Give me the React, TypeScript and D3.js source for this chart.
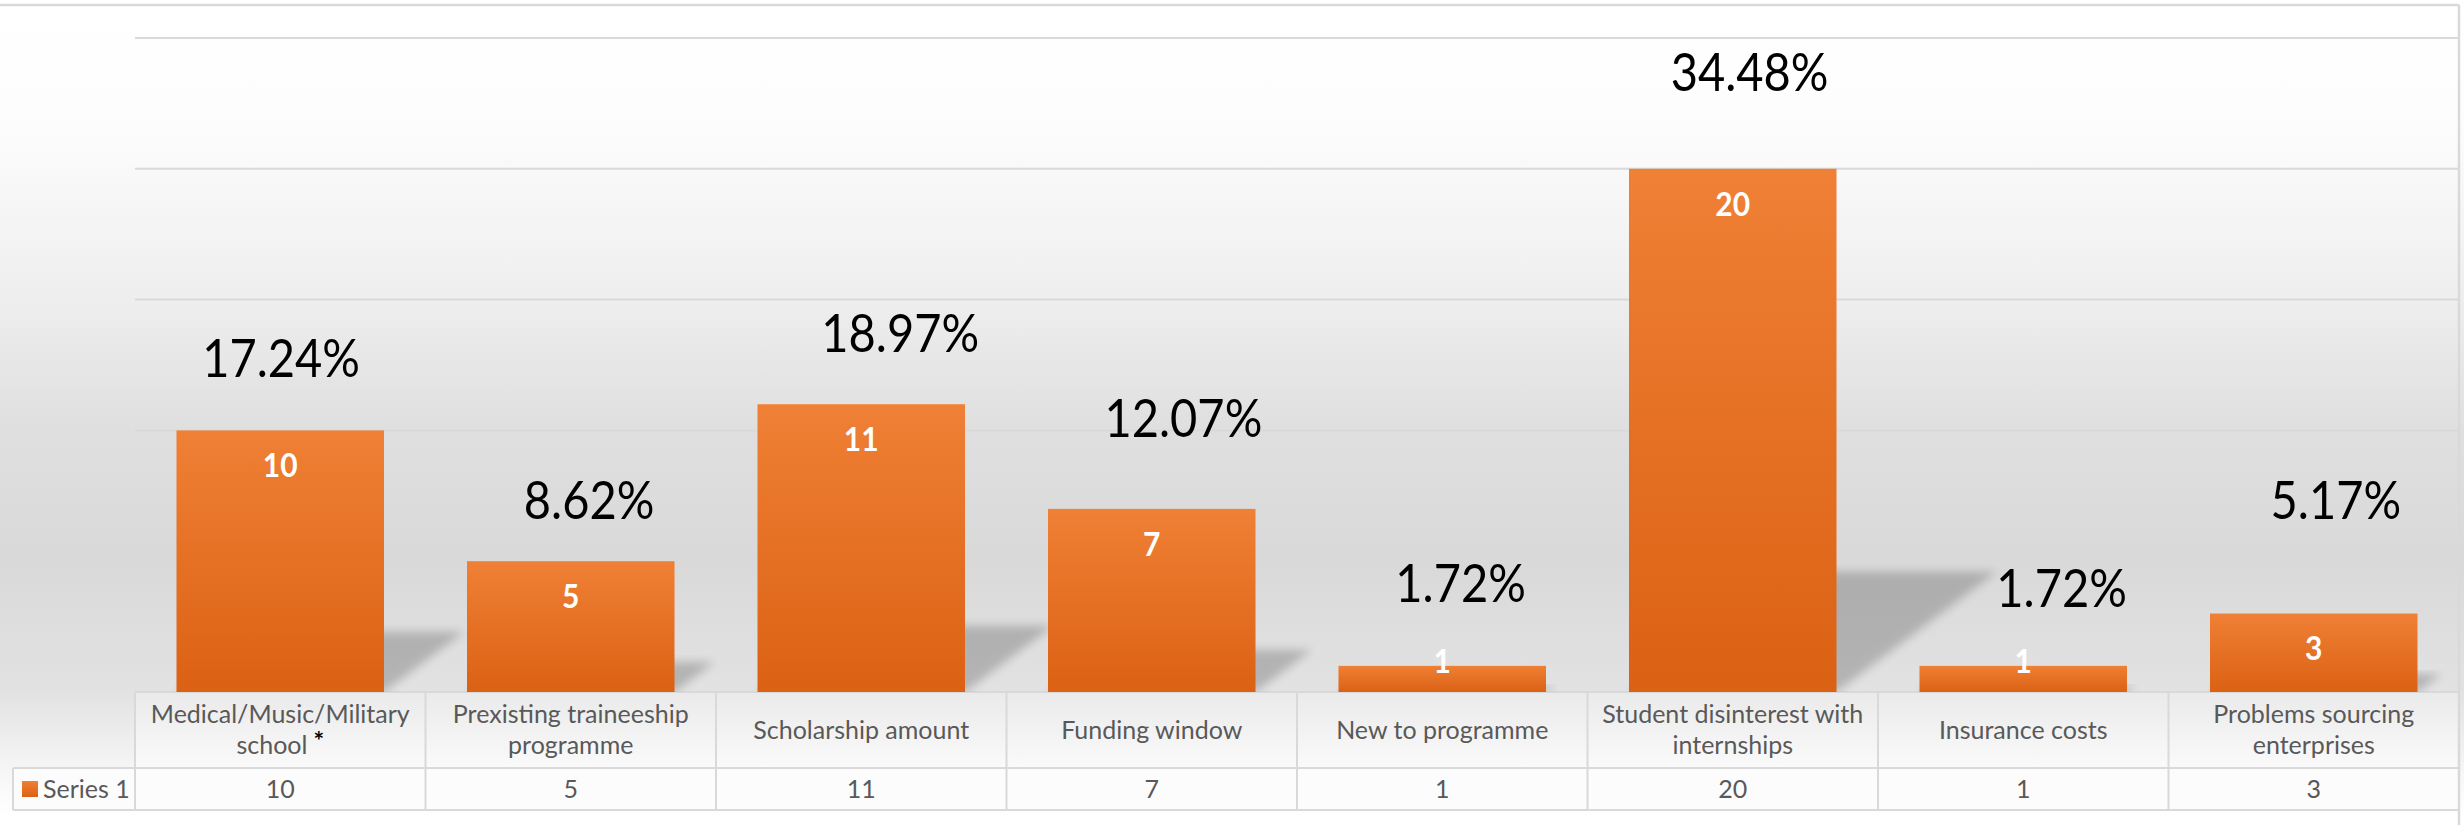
import React, { useMemo } from "react";
import * as d3 from "d3";

// ---------- data ----------
const categories = [
  "Medical/Music/Military school *",
  "Prexisting traineeship programme",
  "Scholarship amount",
  "Funding window",
  "New to programme",
  "Student disinterest with internships",
  "Insurance costs",
  "Problems sourcing enterprises",
];
const counts = [10, 5, 11, 7, 1, 20, 1, 3];
const percentLabels = ["17.24%", "8.62%", "18.97%", "12.07%", "1.72%", "34.48%", "1.72%", "5.17%"];
// where each hand-placed percentage label sits, in value units / band fractions
const percentAnchorValues = [12.77, 7.34, 13.72, 10.47, 4.17, 23.7, 3.98, 7.34];
const percentAnchorShift = [0.003, 0.063, 0.134, 0.109, 0.063, 0.058, 0.132, 0.076];
const yTicks = [0, 5, 10, 15, 20, 25];
const seriesName = "Series 1";

// ---------- layout ----------
const W = 2464;
const H = 825;
const plotLeft = 135;
const plotRight = 2459;
const plotTop = 38;
const baseline = 692;
const seriesRowTop = 768;
const seriesRowBottom = 810;
const tableLeft = 13;
const FONT = "Lato, 'Noto Sans', sans-serif";
const catFontSize = 25;
const lineColor = "#d9d9d9";

function wrapText(text: string, maxWidth: number, font: string): string[] {
  const canvas = document.createElement("canvas");
  const ctx = canvas.getContext("2d")!;
  ctx.font = font;
  const words = text.split(" ");
  const lines: string[] = [];
  let cur = "";
  for (const w of words) {
    const test = cur ? cur + " " + w : w;
    if (cur && ctx.measureText(test).width > maxWidth) {
      lines.push(cur);
      cur = w;
    } else cur = test;
  }
  if (cur) lines.push(cur);
  return lines;
}

export default function App() {
  const x = d3
    .scaleBand<string>()
    .domain(categories)
    .range([plotLeft, plotRight])
    .paddingInner(1 - 1 / 1.4)
    .paddingOuter((1 - 1 / 1.4) / 2);
  const y = d3.scaleLinear().domain([0, 25]).range([baseline, plotTop]);
  const step = x.step();
  const bw = x.bandwidth();

  const wrapped = useMemo(
    () => categories.map((c) => wrapText(c, 262, `${catFontSize}px ${FONT}`)),
    []
  );

  const boundaries = d3.range(categories.length + 1).map((i) => plotLeft + i * step);

  return (
    <svg
      width={W}
      height={H}
      style={{ position: "absolute", left: 0, top: 0, display: "block" }}
      fontFamily={FONT}
    >
      <defs>
        <linearGradient id="bg" gradientUnits="userSpaceOnUse" x1="0" y1="0" x2="0" y2={H}>
          <stop offset={0} stopColor="#ffffff" />
          <stop offset={120 / H} stopColor="#fdfdfd" />
          <stop offset={300 / H} stopColor="#eeeeee" />
          <stop offset={430 / H} stopColor="#dfdfdf" />
          <stop offset={560 / H} stopColor="#d9d9d9" />
          <stop offset={692 / H} stopColor="#e2e2e2" />
          <stop offset={780 / H} stopColor="#f8f8f8" />
          <stop offset={815 / H} stopColor="#ffffff" />
          <stop offset={1} stopColor="#ffffff" />
        </linearGradient>
        <linearGradient id="bar" x1="0" y1="0" x2="0" y2="1">
          <stop offset={0} stopColor="#ef8035" />
          <stop offset={1} stopColor="#db6114" />
        </linearGradient>
        <linearGradient id="cell" x1="0" y1="0" x2="0" y2="1">
          <stop offset={0} stopColor="#eaeaea" />
          <stop offset={1} stopColor="#fafafa" />
        </linearGradient>
        <filter id="blur" x="-20%" y="-20%" width="140%" height="140%">
          <feGaussianBlur stdDeviation="5" />
        </filter>
        <clipPath id="plotClip">
          <rect x={plotLeft} y={0} width={plotRight - plotLeft} height={baseline} />
        </clipPath>
      </defs>

      <rect x={0} y={0} width={W} height={H} fill="url(#bg)" />
      <rect x={plotLeft} y={baseline} width={plotRight - plotLeft} height={seriesRowTop - baseline} fill="url(#cell)" />
      <rect x={tableLeft} y={seriesRowTop} width={plotRight - tableLeft} height={seriesRowBottom - seriesRowTop} fill="#fcfcfc" />

      {/* chart border */}
      <line x1={0} x2={plotRight} y1={5} y2={5} stroke={lineColor} strokeWidth={2.5} />
      <line x1={plotRight} x2={plotRight} y1={5} y2={H} stroke={lineColor} strokeWidth={2.5} />

      {/* gridlines */}
      {yTicks.map((t) => (
        <line key={t} x1={plotLeft} x2={plotRight} y1={y(t)} y2={y(t)} stroke={lineColor} strokeWidth={2} />
      ))}

      {/* shadows */}
      <g clipPath="url(#plotClip)">
        {counts.map((v, i) => {
          const L = x(categories[i])!;
          const R = L + bw;
          const h = baseline - y(v);
          const dy = h * 0.23;
          const dx = h * 0.306;
          const pts = [
            [L, baseline],
            [R, baseline],
            [R + dx, baseline - dy],
            [L + dx, baseline - dy],
          ];
          return (
            <polygon
              key={i}
              points={pts.map((p) => p.join(",")).join(" ")}
              fill="#000"
              opacity={0.2}
              filter="url(#blur)"
            />
          );
        })}
      </g>

      {/* bars */}
      {counts.map((v, i) => (
        <rect
          key={i}
          x={x(categories[i])}
          y={y(v)}
          width={bw}
          height={baseline - y(v)}
          fill="url(#bar)"
        />
      ))}

      {/* inside labels */}
      {counts.map((v, i) => {
        const cx = x(categories[i])! + bw / 2;
        const cy = Math.min(y(v) + 35, baseline - 31);
        return (
          <text
            key={i}
            transform={`translate(${cx},${cy}) scale(1,1.1)`}
            textAnchor="middle"
            dy="0.36em"
            fill="#ffffff"
            fontWeight="bold"
            fontSize={30}
          >
            {v}
          </text>
        );
      })}

      {/* percentage labels */}
      {percentLabels.map((p, i) => {
        const cx = x(categories[i])! + bw / 2 + percentAnchorShift[i] * step;
        const cy = y(percentAnchorValues[i]);
        return (
          <text
            key={i}
            transform={`translate(${cx},${cy}) scale(1,1.1)`}
            textAnchor="middle"
            dy="0.36em"
            fill="#000000"
            fontSize={47}
          >
            {p}
          </text>
        );
      })}

      {/* table lines */}
      <line x1={tableLeft} x2={plotRight} y1={seriesRowTop} y2={seriesRowTop} stroke={lineColor} strokeWidth={2} />
      <line x1={tableLeft} x2={plotRight} y1={seriesRowBottom} y2={seriesRowBottom} stroke={lineColor} strokeWidth={2} />
      <line x1={tableLeft} x2={tableLeft} y1={seriesRowTop} y2={seriesRowBottom} stroke={lineColor} strokeWidth={2} />
      {boundaries.map((bx, i) => (
        <line key={i} x1={bx} x2={bx} y1={baseline} y2={seriesRowBottom} stroke={lineColor} strokeWidth={2} />
      ))}

      {/* category labels */}
      {categories.map((c, i) => {
        const cx = x(c)! + bw / 2;
        const lines = wrapped[i];
        const lh = 31;
        const mid = (baseline + seriesRowTop) / 2;
        const y0 = mid - ((lines.length - 1) * lh) / 2;
        return (
          <text
            key={c}
            textAnchor="middle"
            fill="#595959"
            fontSize={catFontSize}
            transform={`translate(${cx},0)`}
          >
            {lines.map((ln, j) => {
              const parts = ln.split(" ");
              return (
                <tspan key={j} x={0} y={y0 + j * lh} dy="0.35em">
                  {parts.map((w, k) =>
                    w === "*" ? (
                      <tspan key={k} fill="#000" fontWeight="bold" dy={-4}>
                        {(k > 0 ? " " : "") + w}
                      </tspan>
                    ) : (
                      (k > 0 ? " " : "") + w
                    )
                  )}
                </tspan>
              );
            })}
          </text>
        );
      })}

      {/* series row */}
      <rect x={22} y={781} width={16} height={16} fill="url(#bar)" />
      <text x={43} y={(seriesRowTop + seriesRowBottom) / 2} dy="0.35em" fill="#595959" fontSize={catFontSize}>
        {seriesName}
      </text>
      {counts.map((v, i) => (
        <text
          key={i}
          x={x(categories[i])! + bw / 2}
          y={(seriesRowTop + seriesRowBottom) / 2}
          dy="0.35em"
          textAnchor="middle"
          fill="#595959"
          fontSize={catFontSize}
        >
          {v}
        </text>
      ))}
    </svg>
  );
}
